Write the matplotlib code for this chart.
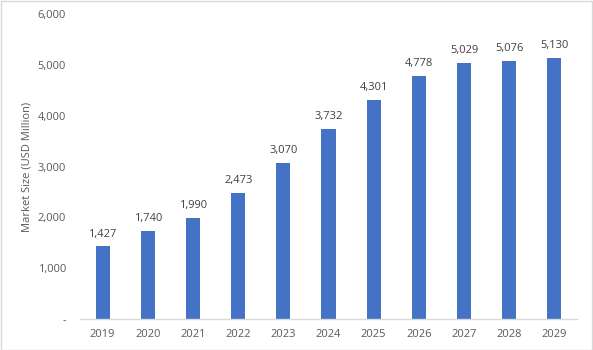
import matplotlib
matplotlib.use("Agg")
import matplotlib.pyplot as plt
from matplotlib.patches import Rectangle

years = ["2019", "2020", "2021", "2022", "2023", "2024", "2025", "2026", "2027", "2028", "2029"]
market_size = [1427, 1740, 1990, 2473, 3070, 3732, 4301, 4778, 5029, 5076, 5130]
y_ticks = [0, 1000, 2000, 3000, 4000, 5000, 6000]
y_tick_labels = ["-", "1,000", "2,000", "3,000", "4,000", "5,000", "6,000"]

plt.rcParams["font.family"] = ["Open Sans", "DejaVu Sans"]
text_color = "#595959"
bar_color = "#4472C4"

W, H = 593, 350
fig = plt.figure(figsize=(W / 100, H / 100), dpi=100)
ax = fig.add_axes([80 / W, 31 / H, 497 / W, 305 / H])

x = list(range(len(years)))
ax.bar(x, market_size, width=0.31, color=bar_color, zorder=2)
for xi, v in zip(x, market_size):
    ax.annotate(f"{v:,}", (xi, v), xytext=(0, 5), textcoords="offset points",
                ha="center", va="bottom", fontsize=8, color="#404040")

ax.set_xlim(-0.5, len(years) - 0.5)
ax.set_ylim(0, 6000)
ax.set_xticks(x)
ax.set_xticklabels(years)
ax.set_yticks(y_ticks)
ax.set_yticklabels(y_tick_labels)
ax.tick_params(axis="both", length=0, labelsize=8, colors=text_color)
ax.tick_params(axis="y", pad=10)
ax.tick_params(axis="x", pad=7)

for side in ("top", "right", "left"):
    ax.spines[side].set_visible(False)
ax.spines["bottom"].set_color("#D9D9D9")
ax.spines["bottom"].set_linewidth(1)

ax.set_ylabel("Market Size (USD Million)", fontsize=8, color=text_color)
ax.yaxis.set_label_coords(-47 / 497, 0.5)

fig.patches.append(Rectangle((0.5 / W, 0.5 / H), 1 - 1.5 / W, 1 - 1.5 / H,
                             transform=fig.transFigure, fill=False,
                             edgecolor="#D9D9D9", linewidth=1))

fig.savefig("out.png", dpi=100)
